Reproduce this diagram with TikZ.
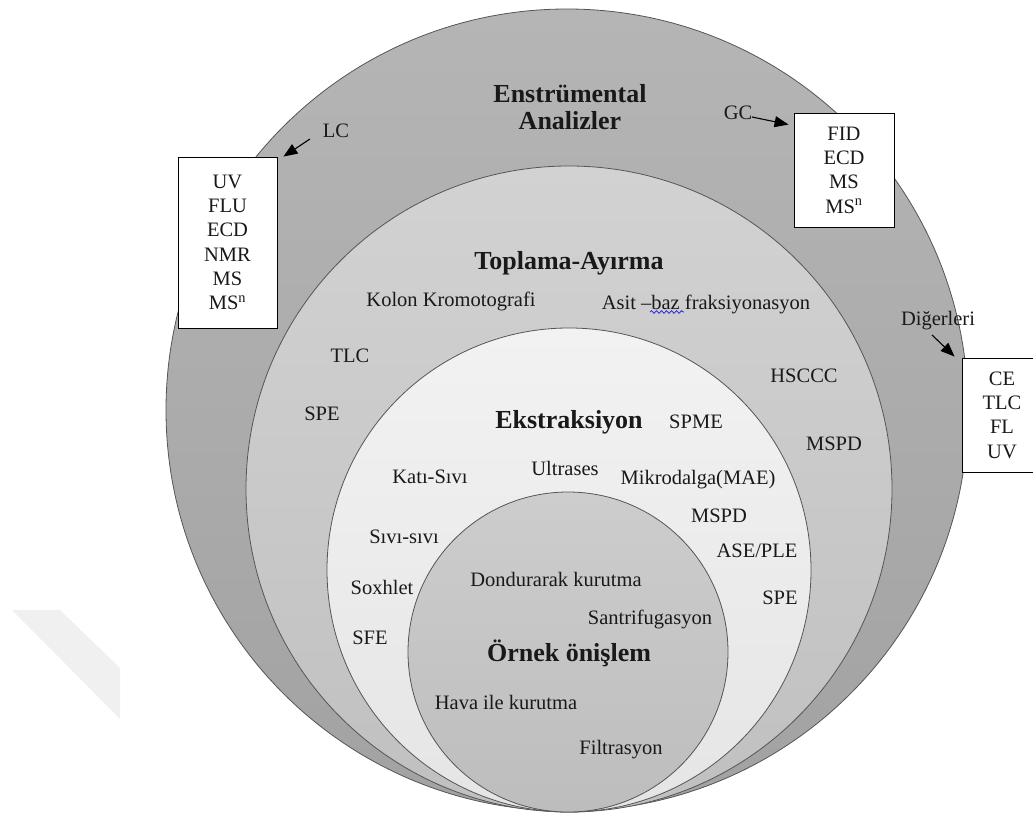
\documentclass[tikz,border=0pt]{standalone}
\usepackage{fontspec}
\setmainfont{Liberation Serif}
\usetikzlibrary{arrows.meta,decorations.pathmorphing}
\definecolor{oTop}{RGB}{181,181,181}
\definecolor{oBot}{RGB}{162,162,162}
\definecolor{tTop}{RGB}{210,210,210}
\definecolor{tBot}{RGB}{192,192,192}
\definecolor{eTop}{RGB}{242,242,242}
\definecolor{eBot}{RGB}{229,229,229}
\definecolor{iTop}{RGB}{205,205,205}
\definecolor{iBot}{RGB}{189,189,189}
\definecolor{ringline}{RGB}{85,85,85}
\definecolor{txt}{RGB}{25,25,25}
\definecolor{wm}{RGB}{240,240,240}
\definecolor{spell}{RGB}{40,40,230}
\tikzset{
  ring/.style={draw=ringline, line width=0.8pt},
  lbl/.style={font=\fontsize{20.5}{24}\selectfont, text=txt, anchor=base, inner sep=0pt},
  ttl/.style={font=\bfseries\fontsize{26}{30}\selectfont, text=txt, anchor=base, inner sep=0pt},
  listbox/.style={draw=black, line width=0.9pt, fill=white, align=center, text=txt,
    font=\fontsize{20.5}{24.3}\selectfont, inner sep=0pt},
  arr/.style={-{Triangle[length=14pt,width=11pt]}, line width=1.1pt, draw=black},
}
\begin{document}
\begin{tikzpicture}[x=1pt,y=-1pt]
\useasboundingbox (0,0) rectangle (1033,821);
% faint watermark fragment
\fill[wm] (12,610) -- (60,610) -- (120,668) -- (120,719) -- cycle;
% rings
\draw[ring, top color=oTop, bottom color=oBot] (567,410) circle (401pt);
% boxes over outer ring
\node[listbox, minimum width=99pt, minimum height=171pt] (lcbox) at (227.5,242.5)
  {UV\\FLU\\ECD\\NMR\\MS\\MS\textsuperscript{n}};
\node[listbox, minimum width=100pt, minimum height=114pt] (gcbox) at (844,170)
  {FID\\ECD\\MS\\MS\textsuperscript{n}};
\node[listbox, minimum width=80pt, minimum height=114pt] (otbox) at (1002,415)
  {CE\\TLC\\FL\\UV};
\draw[ring, top color=tTop, bottom color=tBot] (569,489) circle (323pt);
\draw[ring, top color=eTop, bottom color=eBot] (569,570) circle (242pt);
\draw[ring, top color=iTop, bottom color=iBot] (568,652) circle (160pt);
% titles
\node[ttl] (ens) at (570,103) {Enstrümental};
\node[ttl] (ana) at (570,130) {Analizler};
\node[ttl] (top) at (569,269) {Toplama-Ayırma};
\node[ttl] (eks) at (569,428) {Ekstraksiyon};
\node[ttl] (orn) at (569,661) {Örnek önişlem};
% outer labels and arrows
\node[lbl] (lc) at (336,138) {LC};
\node[lbl] (gc) at (738,120) {GC};
\node[lbl] (dig) at (938,325) {Diğerleri};
\coordinate (lcA) at (310,139);
\coordinate (gcA) at (752,117);
\coordinate (digA) at (932,335);
\draw[arr] (lcA) -- ([shift={(6,0)}]lcbox.north east);
\draw[arr] (gcA) -- ([shift={(-5,12)}]gcbox.north west);
\draw[arr] (digA) -- ([shift={(-7,-1)}]otbox.north west);
% Toplama-Ayirma items
\node[lbl] (kolon) at (451,306) {Kolon Kromotografi};
\node[lbl] (asit) at (706,309) {Asit –baz fraksiyonasyon};
\draw[spell, line width=0.8pt, decorate, decoration={snake, segment length=5pt, amplitude=1.3pt}]
  (650,312) -- (684,312);
\node[lbl] (tlc) at (350,362) {TLC};
\node[lbl] (spe1) at (322,420) {SPE};
\node[lbl] (hsccc) at (804,382) {HSCCC};
\node[lbl] (mspd1) at (834,450) {MSPD};
% Ekstraksiyon items
\node[lbl] (spme) at (696,428) {SPME};
\node[lbl] (kati) at (430,483) {Katı-Sıvı};
\node[lbl] (ultra) at (565,475) {Ultrases};
\node[lbl] (mikro) at (698,484) {Mikrodalga(MAE)};
\node[lbl] (mspd2) at (719,522) {MSPD};
\node[lbl] (sivi) at (404,543) {Sıvı-sıvı};
\node[lbl] (ase) at (757,557) {ASE/PLE};
\node[lbl] (soxh) at (382,594) {Soxhlet};
\node[lbl] (spe2) at (780,604) {SPE};
\node[lbl] (sfe) at (370,644) {SFE};
% Ornek onislem items
\node[lbl] (dond) at (556,586) {Dondurarak kurutma};
\node[lbl] (santr) at (650,624) {Santrifugasyon};
\node[lbl] (hava) at (506,709) {Hava ile kurutma};
\node[lbl] (filt) at (621,754) {Filtrasyon};
\end{tikzpicture}
\end{document}
